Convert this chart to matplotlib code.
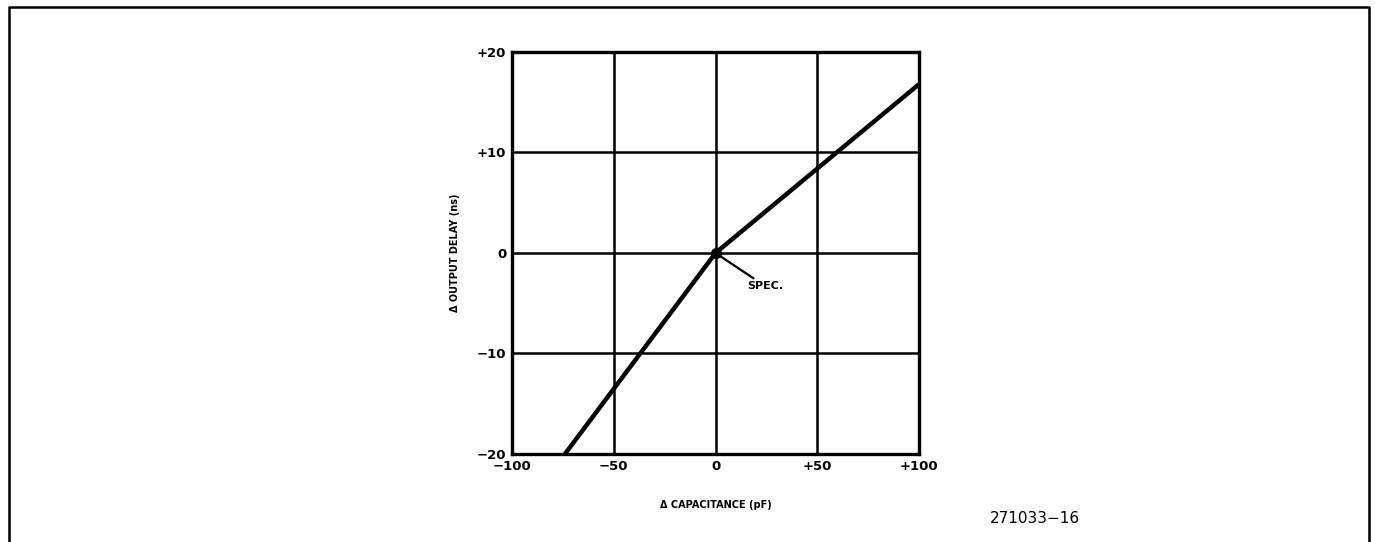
import matplotlib.pyplot as plt
from matplotlib.lines import Line2D

# values
cap = [-74, 0, 100]          # delta capacitance (pF)
delay = [-20, 0, 16.8]       # delta output delay (ns)
xticks = [-100, -50, 0, 50, 100]
xlabels = ["\u2212100", "\u221250", "0", "+50", "+100"]
yticks = [-20, -10, 0, 10, 20]
ylabels = ["\u221220", "\u221210", "0", "+10", "+20"]
spec_pt = (0, 0)

fig = plt.figure(figsize=(13.75, 5.42), dpi=100)
# open frame: left, top and right sides only
fig.lines.append(Line2D([0.0065, 0.0065, 0.9955, 0.9955], [0.0, 0.987, 0.987, 0.0],
                        transform=fig.transFigure, color="black", lw=1.8))

ax = fig.add_axes([0.3724, 0.1624, 0.296, 0.7417])
ax.plot(cap, delay, color="black", lw=3.2, solid_capstyle="butt", zorder=3)
ax.plot(*spec_pt, "o", color="black", ms=7, zorder=4)
ax.annotate("SPEC.", xy=spec_pt, xytext=(15.5, -3.3), fontsize=8, fontweight="bold",
            va="center", ha="left",
            arrowprops=dict(arrowstyle="-", color="black", lw=1.6, shrinkA=0, shrinkB=3))

ax.set_xlim(-100, 100)
ax.set_ylim(-20, 20)
ax.set_xticks(xticks, xlabels)
ax.set_yticks(yticks, ylabels)
ax.tick_params(length=0, labelsize=9.5, pad=4)
for lab in ax.get_xticklabels() + ax.get_yticklabels():
    lab.set_fontweight("bold")
ax.grid(True, color="black", lw=1.8)
for s in ax.spines.values():
    s.set_linewidth(2.4)

ax.set_xlabel("\u0394 CAPACITANCE (pF)", fontsize=7, fontweight="bold", labelpad=20)
ax.set_ylabel("\u0394 OUTPUT DELAY (ns)", fontsize=7, fontweight="bold", labelpad=12)

fig.text(0.72, 0.044, "271033\u221216", fontsize=11, ha="left", va="center")

fig.savefig("out.png", dpi=100)
